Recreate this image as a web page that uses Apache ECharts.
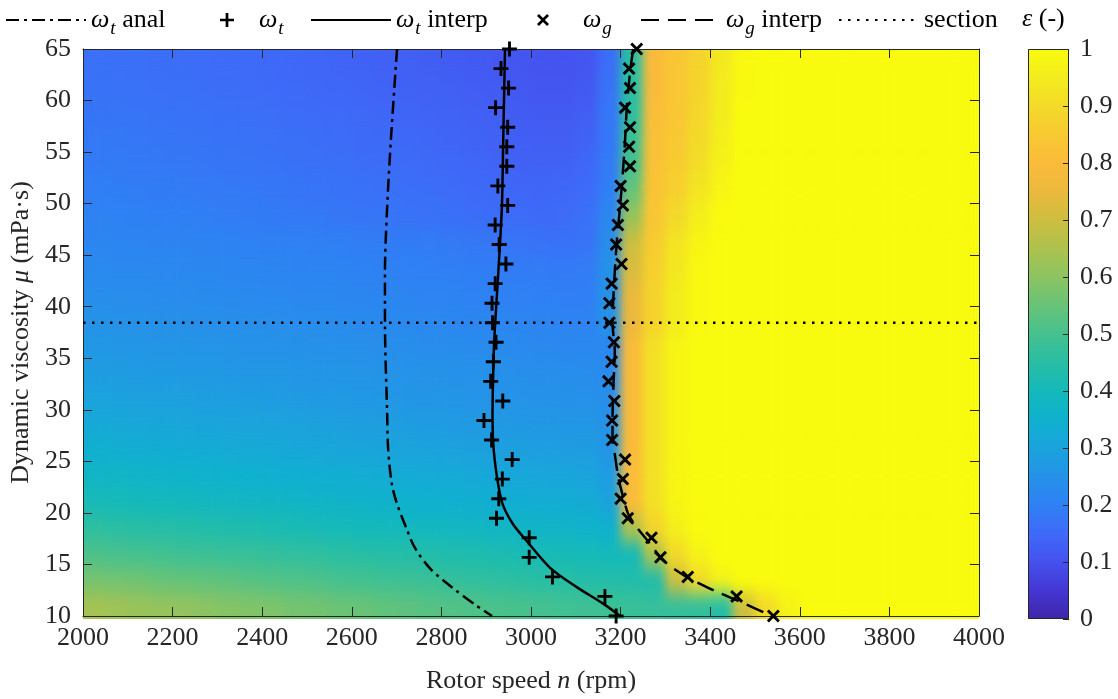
<!DOCTYPE html>
<html>
<head>
<meta charset="utf-8">
<script src="https://cdn.jsdelivr.net/npm/echarts@6/dist/echarts.min.js"></script>
<style>
  html, body { margin: 0; padding: 0; background: #ffffff; }
  #wrap { position: relative; width: 1118px; height: 699px; }
  #field { position: absolute; left: 83px; top: 49px; width: 896px; height: 570px; filter: url(#soften); }
  #chart { position: absolute; left: 0; top: 0; width: 1118px; height: 699px; }
</style>
</head>
<body>
<svg width="0" height="0" style="position:absolute">
  <filter id="soften" x="0" y="0" width="1" height="1" color-interpolation-filters="sRGB">
    <feGaussianBlur stdDeviation="5 9"/>
    <feComponentTransfer><feFuncA type="table" tableValues="1 1"/></feComponentTransfer>
  </filter>
</svg>
<div id="wrap">
  <div id="field"></div>
  <div id="chart"></div>
</div>
<script>
// Viscosity levels at which the speeds were evaluated (mPa·s)
const muLevels = [10, 11.9, 13.79, 15.69, 17.59, 19.48, 21.38, 23.28, 25.17, 27.07,
  28.97, 30.86, 32.76, 34.66, 36.55, 38.45, 40.34, 42.24, 44.14, 46.03,
  47.93, 49.83, 51.72, 53.62, 55.52, 57.41, 59.31, 61.21, 63.1, 65];

// Transition speed omega_t (rpm) at each viscosity level
const omegaT = [3190, 3165, 3048, 2996, 2996, 2923, 2928, 2936, 2958, 2912,
  2895, 2937, 2910, 2916, 2922, 2914, 2913, 2920, 2944, 2929,
  2920, 2948, 2926, 2946, 2946, 2948, 2921, 2950, 2933, 2952];

// Gas-lock speed omega_g (rpm) at each viscosity level
const omegaG = [3541, 3459, 3350, 3289, 3269, 3216, 3200, 3205, 3210, 3181,
  3181, 3186, 3173, 3180, 3185, 3175, 3175, 3180, 3202, 3190,
  3194, 3205, 3200, 3221, 3219, 3221, 3210, 3221, 3219, 3236];

// Curves as [speed rpm, viscosity mPa·s]
const omegaTAnal = [[2701, 65], [2687, 56], [2679, 49.7], [2674, 43.3], [2674, 38.5],
  [2679, 29.5], [2681, 26.3], [2689, 22.9], [2700, 21], [2722, 18.5], [2741, 16.6],
  [2775, 14.6], [2826, 12.7], [2875, 11.1], [2913, 10]];

const omegaTInterp = [[2942, 65], [2938, 56.2], [2935, 49.7], [2927, 43.3], [2920, 38.4],
  [2917, 35.7], [2914, 29.2], [2917, 26], [2927, 22.7], [2937, 20.8], [2960, 18.9],
  [2990, 17.3], [3042, 14.7], [3102, 12.8], [3161, 11.2], [3199, 10]];

const omegaGInterp = [[3228, 65], [3221, 62.7], [3214, 59.4], [3210, 56.2], [3205, 53],
  [3199, 49.8], [3192, 46.6], [3187, 43.4], [3183, 40.1], [3182, 38.4], [3187, 35.7],
  [3184, 32.4], [3182, 29.2], [3182, 27], [3187, 25.7], [3195, 23.4], [3206, 21.5],
  [3217, 19.9], [3236, 18.6], [3266, 17], [3295, 15.4], [3347, 13.8], [3407, 12.5],
  [3466, 11.4], [3538, 10]];

// Horizontal section position (mPa·s)
const sectionMu = 38.45;
const sectionLine = [[2000, sectionMu], [4000, sectionMu]];

// Void fraction field epsilon: cell centres and one row per viscosity band (bottom to top)
const fieldN = [2025, 2075, 2125, 2175, 2225, 2275, 2325, 2375, 2425, 2475,
  2525, 2575, 2625, 2675, 2725, 2775, 2825, 2875, 2925, 2975,
  3025, 3075, 3125, 3175, 3225, 3275, 3325, 3375, 3425, 3475,
  3525, 3575, 3625, 3675, 3725, 3775, 3825, 3875, 3925, 3975];
const fieldMu = [11.25, 13.75, 16.25, 18.75, 21.25, 23.75, 26.25, 28.75, 31.25, 33.75, 36.25,
  38.75, 41.25, 43.75, 46.25, 48.75, 51.25, 53.75, 56.25, 58.75, 61.25, 63.75];
const fieldRows = [
  [.64,.63,.62,.615,.61,.60,.59,.585,.58,.57,.565,.555,.55,.54,.535,.525,.52,.515,.51,.505,.50,.495,.49,.485,.48,.475,.47,.465,.44,.7,.9,.97,1,1,1,1,1,1,1,1],
  [.57,.565,.56,.55,.545,.54,.535,.525,.52,.515,.51,.50,.495,.49,.485,.48,.47,.465,.46,.455,.45,.445,.44,.44,.435,.43,.7,.9,.97,1,1,1,1,1,1,1,1,1,1,1],
  [.51,.505,.50,.495,.49,.485,.48,.475,.47,.465,.46,.455,.45,.445,.44,.435,.43,.425,.42,.415,.41,.41,.405,.40,.40,.65,.9,.97,1,1,1,1,1,1,1,1,1,1,1,1],
  [.46,.455,.45,.445,.44,.435,.43,.425,.42,.415,.41,.405,.40,.397,.393,.39,.385,.38,.377,.373,.37,.367,.36,.35,.65,.88,.96,1,1,1,1,1,1,1,1,1,1,1,1,1],
  [.41,.405,.40,.397,.393,.39,.385,.38,.377,.373,.37,.365,.36,.357,.353,.35,.347,.343,.34,.337,.335,.333,.33,.30,.8,.92,.98,1,1,1,1,1,1,1,1,1,1,1,1,1],
  [.375,.372,.368,.365,.362,.358,.355,.35,.347,.344,.34,.337,.334,.331,.328,.325,.322,.319,.316,.313,.31,.307,.305,.28,.8,.92,.98,1,1,1,1,1,1,1,1,1,1,1,1,1],
  [.345,.342,.339,.336,.333,.33,.327,.324,.32,.317,.314,.311,.308,.305,.302,.30,.297,.294,.291,.289,.287,.285,.283,.26,.8,.92,.98,1,1,1,1,1,1,1,1,1,1,1,1,1],
  [.32,.317,.314,.312,.31,.307,.305,.302,.30,.297,.294,.291,.289,.286,.283,.28,.277,.274,.272,.27,.268,.266,.264,.25,.8,.92,.98,1,1,1,1,1,1,1,1,1,1,1,1,1],
  [.30,.298,.295,.293,.29,.288,.285,.283,.28,.277,.274,.271,.268,.266,.263,.26,.258,.256,.254,.252,.25,.248,.246,.24,.8,.92,.98,1,1,1,1,1,1,1,1,1,1,1,1,1],
  [.28,.278,.276,.274,.272,.27,.268,.266,.265,.262,.26,.258,.256,.254,.252,.25,.248,.246,.244,.242,.24,.238,.236,.23,.8,.92,.98,1,1,1,1,1,1,1,1,1,1,1,1,1],
  [.265,.263,.261,.259,.257,.255,.253,.251,.25,.248,.246,.244,.242,.24,.238,.235,.233,.231,.229,.227,.225,.223,.221,.22,.8,.92,.98,1,1,1,1,1,1,1,1,1,1,1,1,1],
  [.25,.248,.247,.245,.244,.242,.24,.239,.237,.235,.233,.231,.229,.227,.225,.222,.22,.218,.216,.214,.212,.21,.21,.25,.75,.88,.95,.99,1,1,1,1,1,1,1,1,1,1,1,1],
  [.238,.236,.235,.233,.232,.23,.228,.227,.225,.223,.221,.219,.217,.215,.213,.21,.208,.206,.204,.202,.20,.198,.198,.25,.75,.88,.95,.99,1,1,1,1,1,1,1,1,1,1,1,1],
  [.227,.225,.224,.222,.221,.219,.217,.216,.214,.212,.21,.208,.206,.204,.202,.20,.198,.196,.194,.192,.19,.188,.19,.25,.72,.87,.94,.99,1,1,1,1,1,1,1,1,1,1,1,1],
  [.217,.215,.214,.212,.211,.209,.207,.206,.204,.202,.20,.198,.196,.194,.192,.19,.186,.182,.178,.174,.17,.168,.172,.24,.7,.86,.93,.98,1,1,1,1,1,1,1,1,1,1,1,1],
  [.207,.205,.203,.201,.199,.197,.194,.192,.189,.186,.183,.18,.177,.174,.171,.168,.164,.16,.157,.154,.152,.155,.165,.22,.62,.84,.9,.96,1,1,1,1,1,1,1,1,1,1,1,1],
  [.198,.196,.194,.192,.19,.188,.185,.183,.18,.177,.174,.171,.168,.165,.162,.159,.155,.151,.147,.144,.142,.145,.155,.2,.55,.83,.87,.93,.98,1,1,1,1,1,1,1,1,1,1,1],
  [.19,.188,.186,.184,.182,.18,.177,.175,.172,.169,.166,.163,.16,.157,.154,.151,.147,.143,.139,.136,.133,.135,.145,.19,.5,.82,.86,.91,.97,1,1,1,1,1,1,1,1,1,1,1],
  [.183,.181,.179,.177,.175,.173,.17,.168,.165,.162,.159,.156,.153,.15,.147,.144,.14,.136,.132,.128,.125,.125,.135,.18,.48,.82,.85,.9,.96,1,1,1,1,1,1,1,1,1,1,1],
  [.176,.174,.172,.17,.168,.166,.163,.161,.158,.155,.152,.149,.146,.143,.14,.137,.133,.129,.125,.121,.117,.117,.125,.18,.46,.81,.84,.89,.95,1,1,1,1,1,1,1,1,1,1,1],
  [.17,.168,.166,.164,.162,.16,.157,.155,.152,.149,.146,.143,.14,.137,.134,.131,.127,.123,.119,.115,.11,.11,.115,.17,.45,.8,.84,.88,.95,.99,1,1,1,1,1,1,1,1,1,1],
  [.165,.163,.161,.159,.157,.155,.152,.15,.147,.144,.141,.138,.135,.132,.129,.126,.122,.118,.114,.11,.105,.105,.11,.16,.45,.8,.84,.88,.94,.99,1,1,1,1,1,1,1,1,1,1]
];

// Parula colour map, 0 to 1 in steps of 0.05
const parula = ['#3E26A8', '#4436D2', '#4551EE', '#3E6AF8', '#2F80F4', '#2592E8', '#1BA3DC',
  '#0FB1CE', '#14B9BA', '#28BEA4', '#45C18F', '#68C377', '#8CC462', '#ADC24E', '#CDBE40',
  '#EBB93D', '#FBBB3A', '#F8C932', '#F3DA29', '#F3EC1E', '#F9FB0E'];

const FONT = 'Liberation Serif';
const INK = '#262626';

// ---- filled field (drawn underneath the axes layer) ----
const heatData = [];
fieldRows.forEach(function (row, r) {
  row.forEach(function (v, c) { heatData.push([c, r, v]); });
});

const field = echarts.init(document.getElementById('field'), null, { renderer: 'canvas' });
field.setOption({
  animation: false,
  grid: { left: 0, right: 0, top: 0, bottom: 0 },
  xAxis: { type: 'category', data: fieldN.map(String), show: false },
  yAxis: { type: 'category', data: fieldMu.map(String), show: false },
  visualMap: { type: 'continuous', min: 0, max: 1, show: false, inRange: { color: parula } },
  series: [{ type: 'heatmap', data: heatData, silent: true, progressive: 0, emphasis: { disabled: true } }]
});

// ---- axes, curves, markers, legend and colour bar ----
const plusPath = 'path://M0,5.65H14V8.35H0Z M5.65,0H8.35V14H5.65Z';
const crossPath = 'path://M0,1.9L1.9,0L6,4.1L10.1,0L12,1.9L7.9,6L12,10.1L10.1,12L6,7.9L1.9,12L0,10.1L4.1,6Z';

const serifText = { fontFamily: FONT, fontSize: 26, color: INK };
const serifItalic = { fontFamily: FONT, fontSize: 26, color: INK, fontStyle: 'italic' };

function richText(lead) {
  return {
    r: { fontFamily: FONT, fontSize: 26, color: '#000' },
    w: { fontFamily: FONT, fontSize: 26, fontStyle: 'italic', color: '#000', padding: [0, 0, 0, lead] },
    s: { fontFamily: FONT, fontSize: 19, fontStyle: 'italic', color: '#000', padding: [18, 0, 0, 1] }
  };
}

const legendText = {
  wtAnal: '{w|ω}{s|t}{r| anal}',
  wt: '{w|ω}{s|t}',
  wtInterp: '{w|ω}{s|t}{r| interp}',
  wg: '{w|ω}{s|g}',
  wgInterp: '{w|ω}{s|g}{r| interp}',
  section: '{r|section}'
};

const hiddenDot = { color: 'rgba(0,0,0,0)', borderColor: 'rgba(0,0,0,0)', borderWidth: 0 };

function lineLegend(name, left) {
  return {
    data: [name], left: left, top: 7, padding: 0,
    itemWidth: 80, itemHeight: 14, selectedMode: false,
    itemStyle: hiddenDot,
    formatter: function (n) { return legendText[n]; },
    textStyle: { fontFamily: FONT, fontSize: 26, rich: richText(0) }
  };
}

function markerLegend(name, left, size, lead) {
  return {
    data: [name], left: left, top: 7, padding: 0,
    itemWidth: size, itemHeight: size, selectedMode: false,
    formatter: function (n) { return legendText[n]; },
    textStyle: { fontFamily: FONT, fontSize: 26, rich: richText(lead) }
  };
}

function pairs(ns) { return ns.map(function (n, i) { return [n, muLevels[i]]; }); }

const axisLineStyle = { color: INK, width: 1 };
const tickLabel = function (v) { return '{t|' + String(+v.toFixed(1)) + '}'; };
const tickRich = { t: serifText };

const chart = echarts.init(document.getElementById('chart'), null, { renderer: 'canvas' });
chart.setOption({
  animation: false,
  backgroundColor: 'transparent',
  textStyle: { fontFamily: FONT },
  title: {
    text: '{i|ε}{r| (-)}', left: 1022, top: 6, padding: 0,
    textStyle: { fontFamily: FONT, fontSize: 26, fontWeight: 'normal', color: '#000',
      rich: { i: { fontFamily: FONT, fontSize: 26, fontStyle: 'italic', color: '#000' },
              r: { fontFamily: FONT, fontSize: 26, color: '#000' } } }
  },
  legend: [
    lineLegend('wtAnal', 5),
    markerLegend('wt', 220, 14, 20),
    lineLegend('wtInterp', 310),
    markerLegend('wg', 537, 12, 29),
    lineLegend('wgInterp', 640),
    lineLegend('section', 838)
  ],
  grid: [
    { left: 83, top: 49, width: 896, height: 570 },
    { left: 1028, top: 49, width: 41, height: 570 }
  ],
  xAxis: [
    {
      gridIndex: 0, type: 'value', min: 2000, max: 4000, interval: 200, position: 'bottom', z: 3,
      axisLine: { show: true, lineStyle: axisLineStyle },
      axisTick: { show: true, inside: true, length: 9, lineStyle: axisLineStyle },
      axisLabel: { margin: 9, formatter: tickLabel, rich: tickRich },
      splitLine: { show: false },
      name: '{r|Rotor speed }{i|n}{r| (rpm)}', nameLocation: 'middle', nameGap: 52,
      nameTextStyle: { rich: { r: serifText, i: serifItalic } }
    },
    {
      gridIndex: 0, type: 'value', min: 2000, max: 4000, interval: 200, position: 'top', z: 3,
      axisLine: { show: true, lineStyle: axisLineStyle },
      axisTick: { show: true, inside: true, length: 9, lineStyle: axisLineStyle },
      axisLabel: { show: false }, splitLine: { show: false }
    },
    { gridIndex: 1, type: 'category', data: ['ε'], show: false }
  ],
  yAxis: [
    {
      gridIndex: 0, type: 'value', min: 10, max: 65, interval: 5, position: 'left', z: 3,
      axisLine: { show: true, lineStyle: axisLineStyle },
      axisTick: { show: true, inside: true, length: 9, lineStyle: axisLineStyle },
      axisLabel: { margin: 12, formatter: tickLabel, rich: tickRich },
      splitLine: { show: false },
      name: '{r|Dynamic viscosity }{i|μ}{r| (mPa·s)}', nameLocation: 'middle', nameGap: 46,
      nameTextStyle: { rich: { r: serifText, i: serifItalic } }
    },
    {
      gridIndex: 0, type: 'value', min: 10, max: 65, interval: 5, position: 'right', z: 3,
      axisLine: { show: true, lineStyle: axisLineStyle },
      axisTick: { show: true, inside: true, length: 9, lineStyle: axisLineStyle },
      axisLabel: { show: false }, splitLine: { show: false }
    },
    {
      gridIndex: 1, type: 'value', min: 0, max: 1, interval: 0.1, position: 'right', z: 3,
      axisLine: { show: false },
      axisTick: { show: true, inside: true, length: 6, lineStyle: axisLineStyle },
      axisLabel: { margin: 11, formatter: tickLabel, rich: tickRich },
      splitLine: { show: false }
    }
  ],
  series: [
    {
      type: 'bar', xAxisIndex: 2, yAxisIndex: 2, data: [1], barWidth: '100%', z: 1, silent: true,
      itemStyle: {
        borderColor: INK, borderWidth: 1,
        color: new echarts.graphic.LinearGradient(0, 1, 0, 0,
          parula.map(function (c, i) { return { offset: i / (parula.length - 1), color: c }; }))
      }
    },
    {
      name: 'wtAnal', type: 'line', xAxisIndex: 0, yAxisIndex: 0, data: omegaTAnal,
      smooth: 0.3, symbol: 'none', z: 5, silent: true,
      lineStyle: { color: '#000', width: 2.5, type: [13, 5, 3, 5] }
    },
    {
      name: 'wt', type: 'scatter', xAxisIndex: 0, yAxisIndex: 0, data: pairs(omegaT),
      symbol: plusPath, symbolSize: 15, z: 6, silent: true,
      itemStyle: { color: '#000', opacity: 1 }
    },
    {
      name: 'wtInterp', type: 'line', xAxisIndex: 0, yAxisIndex: 0, data: omegaTInterp,
      smooth: 0.3, symbol: 'none', z: 5, silent: true,
      lineStyle: { color: '#000', width: 2.5, type: 'solid' }
    },
    {
      name: 'wg', type: 'scatter', xAxisIndex: 0, yAxisIndex: 0, data: pairs(omegaG),
      symbol: crossPath, symbolSize: 13, z: 6, silent: true,
      itemStyle: { color: '#000', opacity: 1 }
    },
    {
      name: 'wgInterp', type: 'line', xAxisIndex: 0, yAxisIndex: 0, data: omegaGInterp,
      smooth: 0.3, symbol: 'none', z: 5, silent: true,
      lineStyle: { color: '#000', width: 2.5, type: [18, 9] }
    },
    {
      name: 'section', type: 'line', xAxisIndex: 0, yAxisIndex: 0, data: sectionLine,
      symbol: 'none', z: 5, silent: true,
      lineStyle: { color: '#000', width: 2.5, type: [2.5, 6.5] }
    }
  ]
});
</script>
</body>
</html>
